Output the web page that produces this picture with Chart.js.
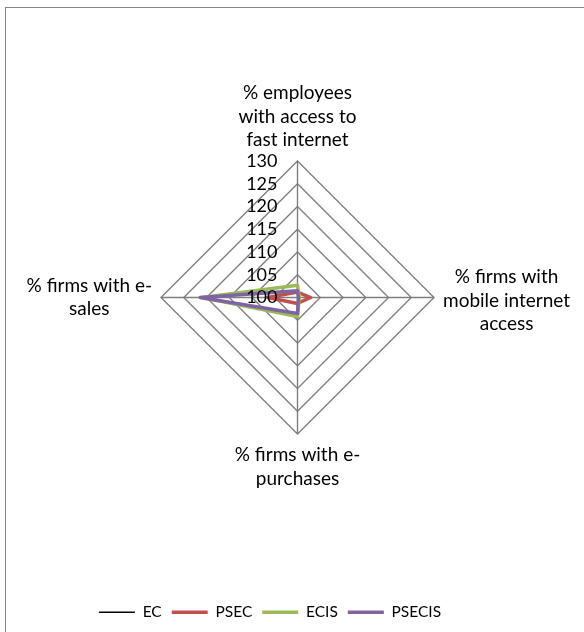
<!DOCTYPE html>
<html>
<head>
<meta charset="utf-8">
<script src="https://cdn.jsdelivr.net/npm/chart.js@4"></script>
<style>
  html, body { margin: 0; padding: 0; background: #fff; overflow: hidden; }
  /* chart border: only the left and top edges fall inside the window */
  #frame {
    position: absolute; left: 5px; top: 7px; right: 0; bottom: 0;
    border-left: 1px solid #868686;
    border-top: 1px solid #868686;
  }
  #wrap { position: absolute; left: 0; top: 0; width: 584px; height: 632px; }
</style>
</head>
<body>
<div id="frame"></div>
<div id="wrap"><canvas id="radarChart"></canvas></div>
<script>
const axisLabels = [
    ['% employees', 'with access to', 'fast internet'],
    ['% firms with', 'mobile internet', 'access'],
    ['% firms with e-', 'purchases'],
    ['% firms with e-', 'sales']
];

const ecValues     = [100, 100, 100, 100];
const psecValues   = [101.2, 102.9, 101.3, 106.5];
const ecisValues   = [102.7, 100.4, 104.2, 121.0];
const psecisValues = [101.5, 100.2, 103.5, 121.4];

const scaleMin = 100;
const scaleMax = 130;
const scaleStep = 5;

// radar geometry inside the canvas
const CENTER_X = 297.5;
const CENTER_Y = 297.5;
const RADIUS = 136.5;
const LABEL_GAP = 9;
const LEGEND_SHIFT = -22;

const gridColor = '#7f7f7f';

// tick values and axis titles are written after the lines so they sit on top
const radarText = {
    id: 'radarText',
    afterDatasetsDraw(chart) {
        const scale = chart.scales.r;
        const ctx = chart.ctx;
        ctx.save();
        ctx.fillStyle = '#000';
        ctx.textBaseline = 'middle';

        ctx.font = '18px Lato';
        ctx.textAlign = 'right';
        scale.ticks.forEach(t => {
            const p = scale.getPointPositionForValue(0, t.value);
            ctx.fillText(t.label, p.x - 20, p.y);
        });

        ctx.font = '19px Lato';
        ctx.textAlign = 'center';
        const lh = 23.6;
        axisLabels.forEach((lines, i) => {
            const p = scale.getPointPosition(i, scale.drawingArea + LABEL_GAP);
            const w = Math.max(...lines.map(l => ctx.measureText(l).width));
            const h = lines.length * lh;
            const cx = p.x + Math.cos(p.angle) * w / 2;
            const cy = p.y + Math.sin(p.angle) * h / 2 + (i === 1 ? 3 : 0);
            lines.forEach((l, k) => {
                ctx.fillText(l, cx, cy - h / 2 + lh * (k + 0.5));
            });
        });
        ctx.restore();
    }
};

const legendOffset = {
    id: 'legendOffset',
    afterLayout(chart) {
        chart.legend.left += LEGEND_SHIFT;
        chart.legend.right += LEGEND_SHIFT;
    }
};

function series(label, data, color, width, order) {
    return {
        label: label,
        data: data,
        borderColor: color,
        backgroundColor: color,
        borderWidth: width,
        pointBorderWidth: width,
        pointBorderColor: color,
        borderCapStyle: 'round',
        borderJoinStyle: 'round',
        pointStyle: 'line',
        pointRadius: 0,
        pointHoverRadius: 0,
        fill: false,
        order: order
    };
}

const ctx = document.getElementById('radarChart').getContext('2d');
const radarChart = new Chart(ctx, {
    type: 'radar',
    data: {
        labels: axisLabels,
        datasets: [
            series('EC', ecValues, '#000000', 1.3, 3),
            series('PSEC', psecValues, '#C0504D', 3.5, 2),
            series('ECIS', ecisValues, '#9BBB59', 3.5, 1),
            series('PSECIS', psecisValues, '#8064A2', 3.5, 0)
        ]
    },
    options: {
        responsive: true,
        maintainAspectRatio: false,
        animation: false,
        layout: { padding: { bottom: 2 } },
        scales: {
            r: {
                min: scaleMin,
                max: scaleMax,
                ticks: { stepSize: scaleStep, display: false },
                grid: { color: gridColor, lineWidth: 1.4 },
                angleLines: { color: gridColor, lineWidth: 1.4 },
                pointLabels: { display: false },
                afterFit(scale) {
                    scale.xCenter = CENTER_X;
                    scale.yCenter = CENTER_Y;
                    scale.drawingArea = RADIUS;
                }
            }
        },
        plugins: {
            legend: {
                position: 'bottom',
                reverse: true,
                labels: {
                    usePointStyle: true,
                    pointStyleWidth: 36,
                    padding: 10,
                    color: '#000',
                    font: { family: 'Lato', size: 15.5 }
                }
            },
            tooltip: { enabled: false }
        }
    },
    plugins: [radarText, legendOffset]
});
</script>
</body>
</html>
